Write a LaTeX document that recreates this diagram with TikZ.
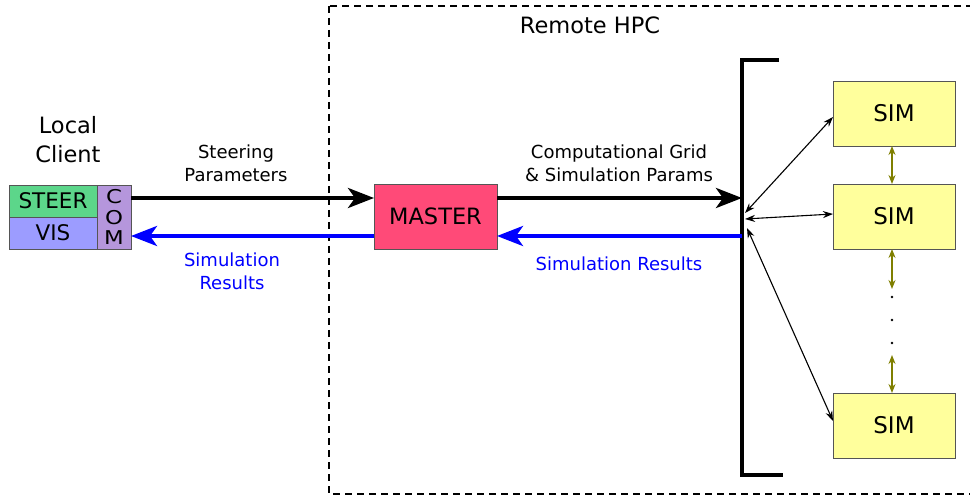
\documentclass[tikz,border=0pt]{standalone}
\usepackage{fontspec}
\setmainfont{DejaVu Sans}
\usetikzlibrary{arrows.meta}
\definecolor{steerg}{HTML}{5CD68A}
\definecolor{visb}{HTML}{9C9CFF}
\definecolor{comp}{HTML}{B596DC}
\definecolor{masterr}{HTML}{FF4A78}
\definecolor{simy}{HTML}{FFFF9C}
\definecolor{olivec}{HTML}{7F7F00}
\definecolor{edgeg}{HTML}{555555}
\tikzset{
  box/.style={draw=edgeg, line width=0.9pt, inner sep=0pt, outer sep=0pt},
  bigarrow/.style={line width=4pt, -{Stealth[length=26pt,width=20pt,inset=7pt]}},
  thinarrow/.style={line width=1.1pt, {Stealth[length=10pt,width=7pt]}-{Stealth[length=10pt,width=7pt]}},
  olivearrow/.style={olivec, line width=1.4pt, {Stealth[length=9pt,width=7pt]}-{Stealth[length=9pt,width=7pt]}},
  lbl/.style={font=\fontsize{18}{23}\selectfont, align=center, inner sep=0pt},
  title/.style={font=\fontsize{22.5}{29}\selectfont, align=center, inner sep=0pt},
}
\begin{document}
\begin{tikzpicture}[x=1pt,y=-1pt]
\useasboundingbox (0,0) rectangle (970,497);
\clip (0,0) rectangle (970,497);
% remote HPC region
\draw[line width=1.3pt, dash pattern=on 7pt off 5pt] (329,6) rectangle (985,494);
\node[title] (hpc) at (590,25) {Remote HPC};
\node[title] (local) at (68,140) {Local\\Client};
% client
\node[box, fill=steerg, minimum width=88pt, minimum height=32pt, font=\fontsize{21.5}{24}\selectfont] (steer) at (53,201) {STEER};
\node[box, fill=visb, minimum width=88pt, minimum height=32pt, font=\fontsize{21.5}{24}\selectfont] (vis) at (53,233) {VIS};
\node[box, fill=comp, minimum width=34pt, minimum height=64pt, font=\fontsize{19}{21}\selectfont, align=center] (com) at (114,217) {\scalebox{1.2}[1]{C}\\[-0.5pt]\scalebox{1.2}[1]{O}\\[-0.5pt]\scalebox{1.2}[1]{M}};
% master
\node[box, fill=masterr, minimum width=123pt, minimum height=65pt, font=\fontsize{22.5}{24}\selectfont] (master) at (435.5,216.5) {MASTER};
% sims
\node[box, fill=simy, minimum width=122pt, minimum height=65pt, font=\fontsize{23}{24}\selectfont] (sim1) at (894,113.5) {SIM};
\node[box, fill=simy, minimum width=122pt, minimum height=65pt, font=\fontsize{23}{24}\selectfont] (sim2) at (894,216.5) {SIM};
\node[box, fill=simy, minimum width=122pt, minimum height=65pt, font=\fontsize{23}{24}\selectfont] (sim3) at (894,425.5) {SIM};
% bracket
\coordinate (bt) at (742,60);
\coordinate (bb) at (742,475);
\draw[line width=3.5pt] (779,60) -- (bt) -- (bb) -- (783,475);
\coordinate (r1) at (0,198);
\coordinate (r2) at (0,236);
\coordinate (h1) at (745,213);
\coordinate (h2) at (745,219);
\coordinate (h3) at (747,228);
% main arrows
\draw[bigarrow] (com.east |- r1) -- (master.west |- r1);
\draw[bigarrow] (master.east |- r1) -- (bt |- r1);
\draw[bigarrow, blue] (bt |- r2) -- (master.east |- r2);
\draw[bigarrow, blue] (master.west |- r2) -- (com.east |- r2);
% labels
\node[lbl] (lsteer) at (236,163.5) {Steering\\Parameters};
\node[lbl, text=blue] (lres1) at (232,271.5) {Simulation\\Results};
\node[lbl] (lgrid) at (619,163.5) {Computational Grid\\\& Simulation Params};
\node[lbl, text=blue] (lres2) at (619,264) {Simulation Results};
% thin arrows
\draw[thinarrow] (h1) -- ([yshift=-3.5pt]sim1.west);
\draw[thinarrow] (h2) -- ([yshift=2.5pt]sim2.west);
\draw[thinarrow] (h3) -- ([yshift=4.5pt]sim3.west);
% olive arrows
\coordinate (o1) at (892,289);
\coordinate (o2) at (892,355);
\draw[olivearrow] ([xshift=-2pt]sim1.south) -- ([xshift=-2pt]sim2.north);
\draw[olivearrow] ([xshift=-2pt]sim2.south) -- (o1);
\draw[olivearrow] (o2) -- ([xshift=-2pt]sim3.north);
\fill (892,297) circle (1.3pt);
\fill (892,320) circle (1.3pt);
\fill (892,343) circle (1.3pt);
\end{tikzpicture}
\end{document}
